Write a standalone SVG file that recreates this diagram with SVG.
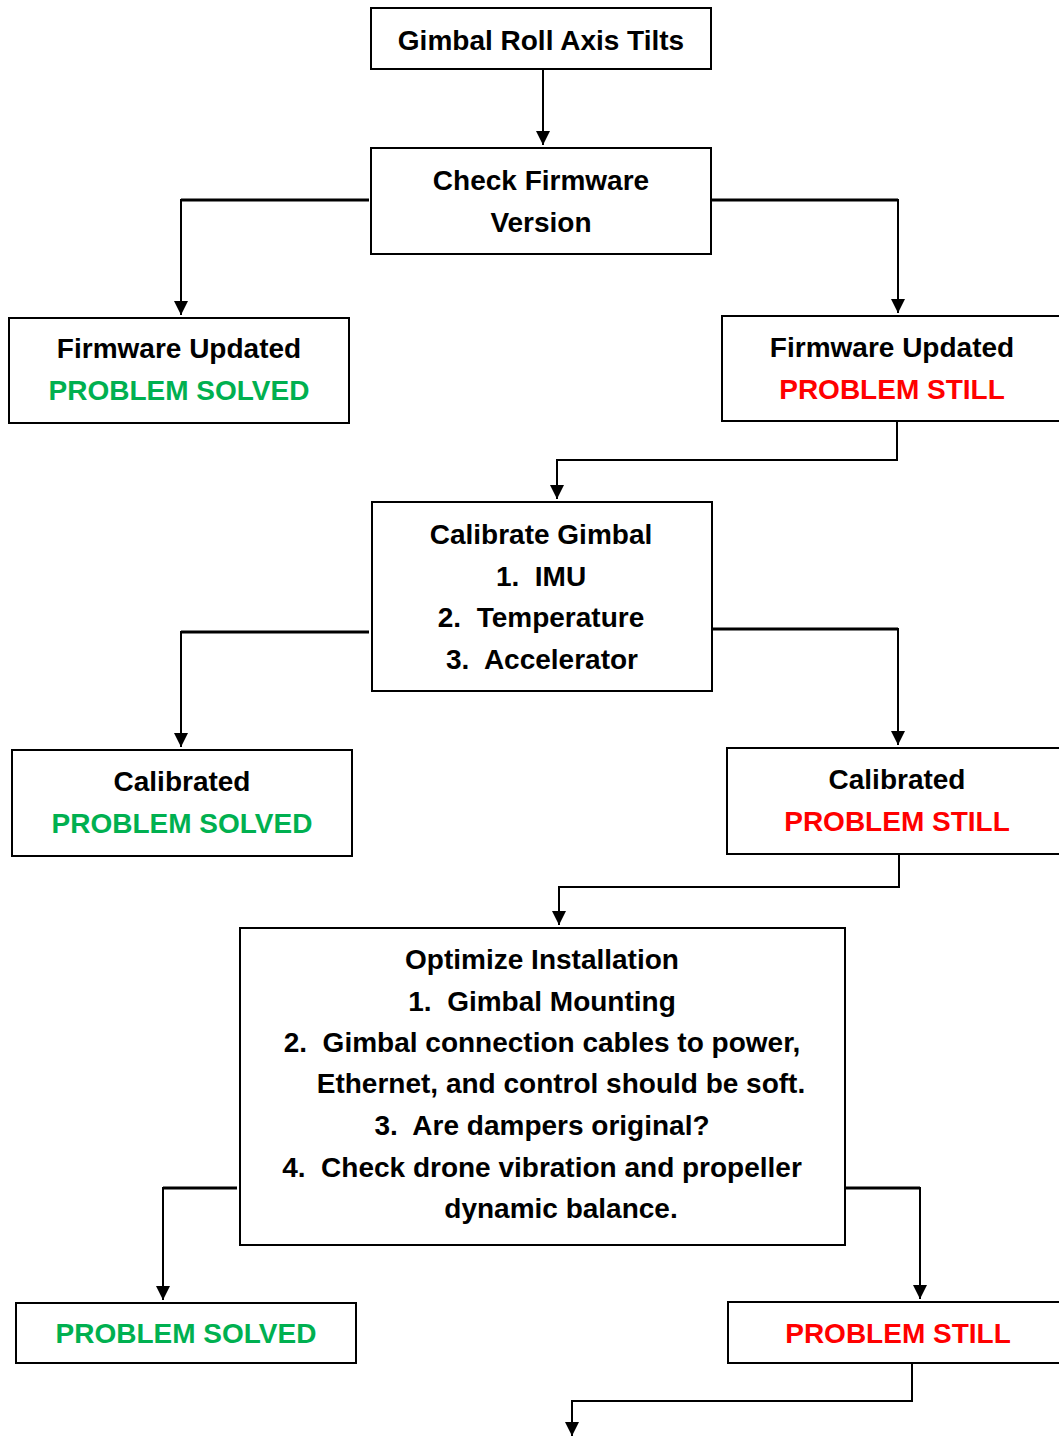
<svg xmlns="http://www.w3.org/2000/svg" width="1059" height="1436" viewBox="0 0 1059 1436">
<style>
  .box { fill: #fff; stroke: #000; stroke-width: 2; }
  .t { font-family: "Liberation Sans", Arial, sans-serif; font-weight: bold; font-size: 28px; text-anchor: middle; fill: #000; white-space: pre; }
  .g { fill: #00B050; }
  .r { fill: #FF0000; }
  .c { fill: none; stroke: #000; stroke-width: 2; marker-end: url(#ah); }
  .h { fill: none; stroke: #000; stroke-width: 3; }
</style>
<defs>
  <marker id="ah" markerUnits="userSpaceOnUse" markerWidth="16" markerHeight="16" refX="14" refY="7" orient="auto">
    <path d="M0,0 L14,7 L0,14 Z" fill="#000"/>
  </marker>
</defs>
<rect width="1059" height="1436" fill="#fff"/>
<g id="connectors">
  <path class="c" d="M543,69 V145"/>
  <path class="c" d="M369,200 H181 V315"/>
  <path class="h" d="M369,200 H181"/>
  <path class="c" d="M711,200 H898 V313"/>
  <path class="h" d="M711,200 H898"/>
  <path class="c" d="M897,421 V460 H557 V499"/>
  <path class="c" d="M369,632 H181 V747"/>
  <path class="h" d="M369,632 H181"/>
  <path class="c" d="M710,629 H898 V745"/>
  <path class="h" d="M710,629 H898"/>
  <path class="c" d="M899,854 V887 H559 V925"/>
  <path class="c" d="M237,1188 H163 V1300"/>
  <path class="h" d="M237,1188 H163"/>
  <path class="c" d="M845,1188 H920 V1299"/>
  <path class="h" d="M845,1188 H920"/>
  <path class="c" d="M912,1363 V1401 H572 V1436"/>
</g>
<g id="n1">
  <rect class="box" x="371" y="8" width="340" height="61"/>
  <text class="t" x="541" y="50">Gimbal Roll Axis Tilts</text>
</g>
<g id="n2">
  <rect class="box" x="371" y="148" width="340" height="106"/>
  <text class="t" x="541" y="190">Check Firmware</text>
  <text class="t" x="541" y="232">Version</text>
</g>
<g id="n3">
  <rect class="box" x="9" y="318" width="340" height="105"/>
  <text class="t" x="179" y="358">Firmware Updated</text>
  <text class="t g" x="179" y="400">PROBLEM SOLVED</text>
</g>
<g id="n4">
  <rect class="box" x="722" y="316" width="350" height="105"/>
  <text class="t" x="892" y="357">Firmware Updated</text>
  <text class="t r" x="892" y="399">PROBLEM STILL</text>
</g>
<g id="n5">
  <rect class="box" x="372" y="502" width="340" height="189"/>
  <text class="t" x="541" y="544">Calibrate Gimbal</text>
  <text class="t" x="541" y="586" xml:space="preserve">1.  IMU</text>
  <text class="t" x="541" y="627" xml:space="preserve">2.  Temperature</text>
  <text class="t" x="542" y="669" xml:space="preserve">3.  Accelerator</text>
</g>
<g id="n6">
  <rect class="box" x="12" y="750" width="340" height="106"/>
  <text class="t" x="182" y="791">Calibrated</text>
  <text class="t g" x="182" y="833">PROBLEM SOLVED</text>
</g>
<g id="n7">
  <rect class="box" x="727" y="748" width="345" height="106"/>
  <text class="t" x="897" y="789">Calibrated</text>
  <text class="t r" x="897" y="831">PROBLEM STILL</text>
</g>
<g id="n8">
  <rect class="box" x="240" y="928" width="605" height="317"/>
  <text class="t" x="542" y="969">Optimize Installation</text>
  <text class="t" x="542" y="1011" xml:space="preserve">1.  Gimbal Mounting</text>
  <text class="t" x="542" y="1052" xml:space="preserve">2.  Gimbal connection cables to power,</text>
  <text class="t" x="561" y="1093">Ethernet, and control should be soft.</text>
  <text class="t" x="542" y="1135" xml:space="preserve">3.  Are dampers original?</text>
  <text class="t" x="542" y="1177" xml:space="preserve">4.  Check drone vibration and propeller</text>
  <text class="t" x="561" y="1218">dynamic balance.</text>
</g>
<g id="n9">
  <rect class="box" x="16" y="1303" width="340" height="60"/>
  <text class="t g" x="186" y="1343">PROBLEM SOLVED</text>
</g>
<g id="n10">
  <rect class="box" x="728" y="1302" width="344" height="61"/>
  <text class="t r" x="898" y="1343">PROBLEM STILL</text>
</g>
</svg>
